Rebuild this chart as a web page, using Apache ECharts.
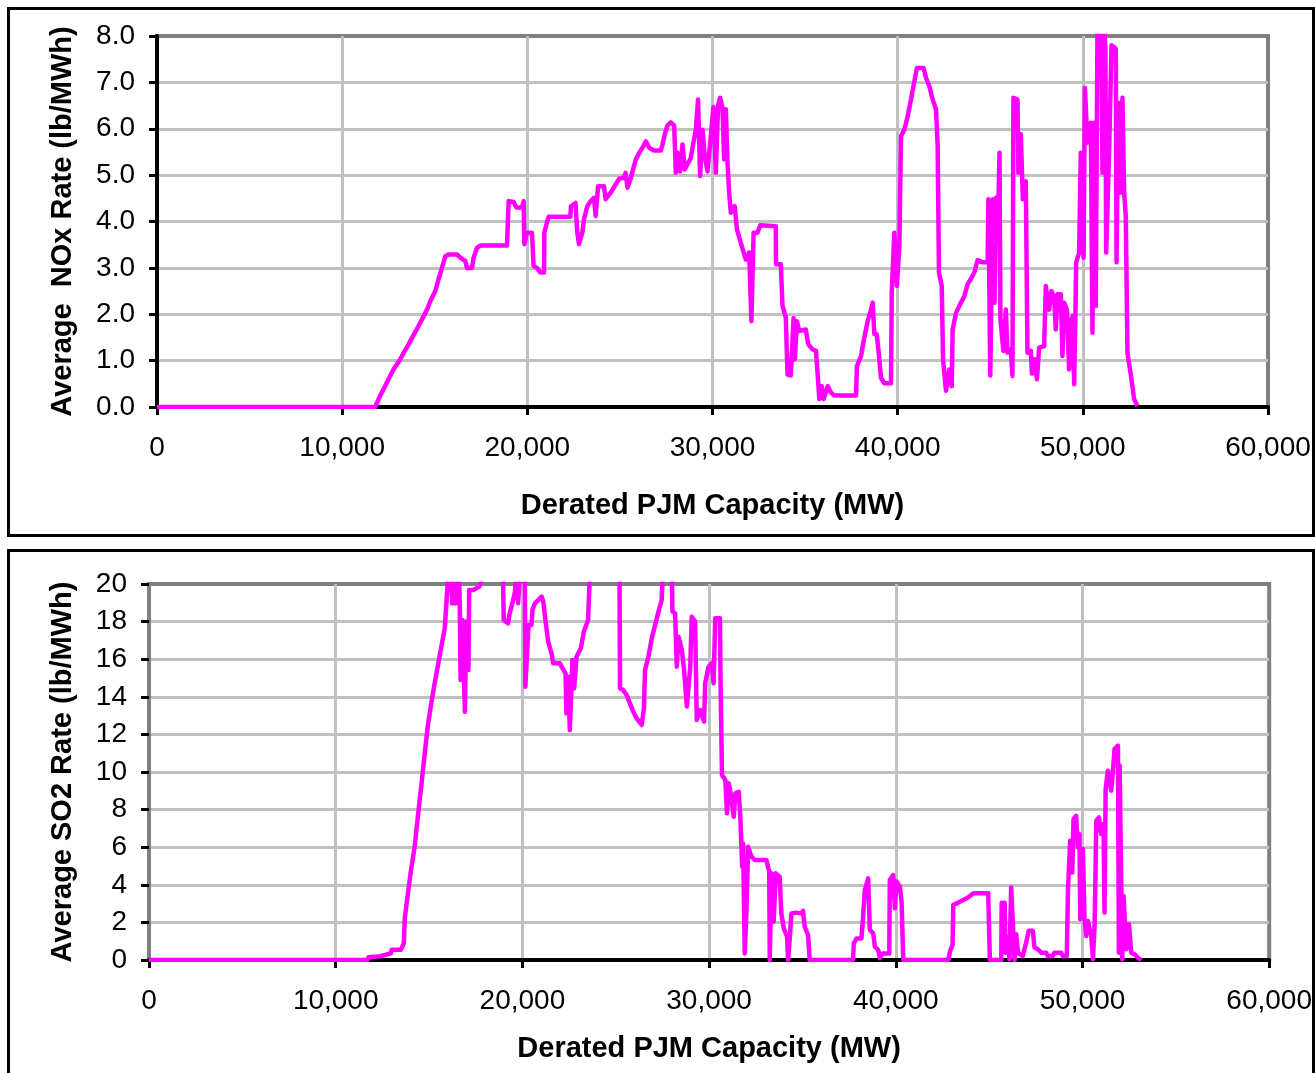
<!DOCTYPE html>
<html><head><meta charset="utf-8">
<script src="https://cdn.jsdelivr.net/npm/echarts@6/dist/echarts.min.js"></script>
<style>html,body{margin:0;padding:0;background:#fff;}#c{width:1315px;height:1073px;}</style>
</head><body><div id="c"></div>
<script>
// ---- Data ----
const xTickValues = [0, 10000, 20000, 30000, 40000, 50000, 60000];
const noxTickValues = [0, 1, 2, 3, 4, 5, 6, 7, 8];
const so2TickValues = [0, 2, 4, 6, 8, 10, 12, 14, 16, 18, 20];

const noxMW = [0,11780,12050,12320,12590,12770,13140,13320,13590,13770,14130,14310,14580,14760,15030,15200,15390,15570,15750,16200,16380,16650,16740,17010,17100,17280,17460,18900,18990,19260,19410,19710,19800,19840,19980,20250,20340,20520,20700,20900,20920,21070,21160,22320,22360,22600,22700,22790,22970,23060,23240,23420,23600,23690,23820,24140,24230,24500,24770,24950,25220,25310,25410,25590,25680,25860,26040,26220,26400,26580,26850,27210,27300,27420,27570,27750,27930,28020,28110,28250,28380,28500,28680,28830,28920,29100,29220,29330,29460,29580,29730,29900,30050,30180,30300,30410,30540,30630,30720,30810,30900,30990,31200,31320,31530,31800,31980,32100,32200,32220,32430,32580,33420,33430,33690,33780,33960,34050,34230,34380,34450,34560,34680,35040,35170,35410,35590,35680,35770,35900,36000,36220,36400,36580,37750,37800,38020,38200,38380,38560,38650,38740,38870,38960,39100,39280,39640,39680,39820,39960,40090,40180,40360,40540,40720,40900,41040,41400,41530,41710,41890,42070,42160,42230,42380,42450,42610,42790,42920,42970,43150,43330,43600,43780,43960,44140,44320,44590,44860,44900,45000,45140,45230,45320,45410,45500,45550,45710,45840,45930,46110,46200,46250,46470,46520,46650,46760,46920,47010,47190,47250,47370,47520,47640,47910,48000,48090,48180,48310,48450,48540,48630,48810,48900,48990,49140,49260,49350,49460,49530,49600,49640,49800,49890,50040,50110,50250,50430,50520,50610,50700,50790,51000,51060,51150,51220,51260,51420,51550,51780,51820,51910,52020,52140,52230,52320,52410,52590,52770,52950];
const noxRate = [0,0,0.24,0.45,0.67,0.81,1.03,1.17,1.35,1.49,1.75,1.89,2.10,2.28,2.50,2.75,3.00,3.25,3.29,3.29,3.22,3.15,3.00,3.00,3.22,3.43,3.48,3.48,4.44,4.42,4.30,4.30,4.44,3.51,3.76,3.76,3.04,3.00,2.90,2.90,3.76,4.00,4.10,4.10,4.33,4.40,3.76,3.51,3.76,4.05,4.33,4.44,4.51,4.12,4.76,4.76,4.48,4.62,4.80,4.92,4.94,5.05,4.73,4.94,5.08,5.34,5.48,5.59,5.73,5.59,5.53,5.53,5.66,5.88,6.07,6.14,6.07,5.05,5.48,5.08,5.66,5.12,5.26,5.37,5.59,5.98,6.63,4.98,5.98,5.41,5.08,5.80,6.47,5.05,6.50,6.67,6.45,5.34,6.42,5.27,4.62,4.19,4.33,3.83,3.54,3.18,3.33,1.85,1.85,3.76,3.76,3.92,3.90,3.08,3.08,2.18,1.93,0.70,0.68,1.92,1.03,1.85,1.64,1.67,1.35,1.24,1.21,0.70,0.17,0.45,0.17,0.45,0.31,0.25,0.25,0.88,1.10,1.50,1.85,2.10,2.25,1.57,1.57,1.24,0.63,0.51,0.51,2.46,3.76,2.61,3.47,5.84,5.98,6.27,6.63,7.02,7.31,7.31,7.10,6.92,6.63,6.42,5.63,2.90,2.61,1.03,0.35,0.81,0.45,1.67,2.03,2.18,2.39,2.65,2.77,2.90,3.17,3.12,3.12,4.48,0.68,4.48,2.25,4.51,3.80,5.48,1.89,1.21,2.10,1.17,1.24,0.67,6.67,6.63,5.05,5.88,4.48,4.87,1.17,1.21,0.72,1.03,0.60,1.28,1.31,2.61,2.65,2.10,2.50,2.36,1.67,2.43,2.43,1.10,2.25,2.10,0.81,1.85,1.96,0.49,2.03,3.12,3.33,5.48,3.22,6.88,5.70,6.13,1.60,6.13,2.18,8.20,8.20,5.05,8.20,7.69,3.33,5.55,7.80,7.73,3.12,6.56,4.62,6.67,4.62,4.12,1.17,0.70,0.17,0.02];

const so2MW = [0,11700,11750,12400,12450,12950,13000,13500,13650,13700,13870,14050,14230,14410,14590,14760,14940,15120,15300,15480,15660,15840,15930,16020,16200,16230,16430,16470,16610,16650,16690,16790,16920,17000,17110,17150,17370,17460,17690,17820,18300,18700,18960,19000,19230,19320,19460,19590,19680,19770,19860,20130,20160,20250,20330,20490,20540,20670,20850,21030,21120,21200,21290,21380,21560,21650,22010,22150,22310,22360,22450,22540,22680,22770,22900,23130,23290,23520,23610,24200,24800,25200,25230,25400,25580,25760,25940,26120,26390,26510,26570,26750,26930,27110,27290,27460,27520,27750,28000,28040,28180,28270,28360,28540,28660,28810,28990,29070,29250,29340,29520,29730,29790,29970,30150,30240,30330,30580,30620,30690,30870,30960,31050,31140,31320,31410,31590,31680,31770,31820,31910,32000,32090,32270,32450,33070,33220,33250,33340,33460,33570,33780,33870,34000,34180,34230,34320,34410,34680,34940,35030,35120,35300,35390,37710,37750,37900,38160,38250,38340,38520,38610,38790,38880,39060,39150,39290,39650,39680,39860,39950,40040,40220,40310,40400,42810,42900,43040,43080,43260,43430,43610,43790,43970,44150,44950,45040,45650,45670,45830,45880,46000,46090,46180,46360,46450,46540,46800,46980,47120,47340,47430,47610,47790,48050,48140,48410,48500,48860,48950,49160,49220,49340,49450,49520,49660,49750,49840,49880,50020,50110,50200,50290,50470,50560,50650,50700,50740,50880,51000,51130,51180,51240,51360,51540,51630,51720,51900,51950,51990,52080,52130,52200,52350,52490,52610,52790,52970,53150];
const so2Rate = [0,0,0.15,0.20,0.30,0.35,0.55,0.55,0.90,2.22,3.55,4.88,6.03,7.71,9.31,10.90,12.50,13.65,14.72,15.70,16.67,17.64,18.97,20.50,20.50,18.97,18.97,20.50,20.50,18.62,14.90,18.09,13.21,18.00,15.43,19.68,19.68,19.77,19.86,20.20,22.00,21.50,20.50,18.09,17.91,18.44,18.97,19.50,20.50,18.97,20.50,20.50,14.54,14.45,17.82,17.82,18.62,18.97,19.15,19.33,19.06,18.35,17.64,16.93,16.31,15.78,15.78,15.51,15.25,13.12,15.07,12.23,15.96,14.45,16.13,16.58,17.46,18.09,20.50,22.50,22.00,20.50,14.45,14.36,14.10,13.65,13.21,12.85,12.50,13.39,15.43,16.13,17.11,17.82,18.53,19.15,20.50,21.00,20.50,18.53,18.44,15.60,17.20,16.49,15.43,13.48,15.60,18.26,18.00,12.77,13.30,12.68,14.72,15.60,15.78,14.72,18.18,18.18,14.36,9.84,9.57,7.80,9.40,8.95,7.62,8.87,8.95,7.45,4.96,6.20,0.35,2.57,6.03,5.50,5.32,5.32,4.70,0,4.61,2.04,4.61,4.43,2.48,1.68,1.24,0,1.15,2.48,2.52,2.48,2.62,1.77,1.33,0,0,0.89,1.15,1.15,2.30,3.72,4.34,1.60,1.42,0.71,0.53,0.09,0.35,0.35,4.26,4.52,2.75,4.17,3.90,3.10,0,0,0.44,0.80,2.93,3.01,3.10,3.19,3.28,3.40,3.55,3.55,0,0,3.05,3.05,0.39,1.19,0.04,3.85,0,1.37,0.39,0.21,0.92,1.55,1.55,0.66,0.57,0.39,0.39,0.21,0.21,0.39,0.39,0.21,0.21,3.68,6.34,4.65,7.50,7.67,5.99,6.70,2.17,5.90,2.17,1.28,2.08,1.28,0.04,1.90,4.83,7.41,7.58,6.70,7.23,2.52,9.09,10.07,9.01,10.07,11.23,11.40,0.39,10.34,10.34,0.04,3.41,0.57,1.90,0.39,0.30,0.12,0];

// ---- Chart ----
const FONT = '"Liberation Sans", Arial, sans-serif';
const pairs = (xs, ys) => xs.map((x, i) => [x, ys[i]]);
const fmtThousands = v => String(v).replace(/\B(?=(\d{3})+(?!\d))/g, ',');

function xAxisCfg(gridIndex, nameGap) {
  return {
    type: 'value', gridIndex,
    min: xTickValues[0], max: xTickValues[xTickValues.length - 1],
    interval: xTickValues[1] - xTickValues[0],
    name: 'Derated PJM Capacity (MW)', nameLocation: 'middle', nameGap,
    nameTextStyle: { fontFamily: FONT, fontSize: 29, fontWeight: 'bold', color: '#000' },
    axisLine: { show: true, onZero: false, lineStyle: { color: '#000', width: 4 } },
    axisTick: { show: true, length: 8, lineStyle: { color: '#000', width: 3 } },
    axisLabel: { fontFamily: FONT, fontSize: 28, color: '#000', margin: 27, formatter: fmtThousands },
    splitLine: { show: true, showMinLine: false, showMaxLine: false, lineStyle: { color: '#c0c0c0', width: 3 } }
  };
}
function yAxisCfg(gridIndex, ticks, name, nameGap, fmt, lineColor) {
  return {
    type: 'value', gridIndex,
    min: ticks[0], max: ticks[ticks.length - 1], interval: ticks[1] - ticks[0],
    name, nameLocation: 'middle', nameGap,
    nameTextStyle: { fontFamily: FONT, fontSize: 29, fontWeight: 'bold', color: '#000' },
    axisLine: { show: true, onZero: false, lineStyle: { color: lineColor, width: 4 } },
    axisTick: { show: true, length: 8, lineStyle: { color: '#000', width: 3 } },
    axisLabel: { fontFamily: FONT, fontSize: 28, color: '#000', margin: 22, formatter: fmt },
    splitLine: { show: true, showMinLine: false, showMaxLine: false, lineStyle: { color: '#c0c0c0', width: 3 } }
  };
}

const chart = echarts.init(document.getElementById('c'));
chart.setOption({
  animation: false,
  backgroundColor: '#fff',
  graphic: [
    { type: 'rect', silent: true, z: -10, shape: { x: 8.5, y: 8.5, width: 1305, height: 527 },
      style: { fill: 'transparent', stroke: '#000', lineWidth: 3 } },
    { type: 'rect', silent: true, z: -10, shape: { x: 8.5, y: 550.5, width: 1305, height: 560 },
      style: { fill: 'transparent', stroke: '#000', lineWidth: 3 } }
  ],
  grid: [
    { left: 157, top: 36, width: 1111, height: 371, show: true, borderColor: '#808080', borderWidth: 4, backgroundColor: 'transparent' },
    { left: 149, top: 584, width: 1121, height: 376, show: true, borderColor: '#808080', borderWidth: 4, backgroundColor: 'transparent' }
  ],
  xAxis: [xAxisCfg(0, 84), xAxisCfg(1, 74)],
  yAxis: [
    yAxisCfg(0, noxTickValues, 'Average  NOx Rate (lb/MWh)', 80, v => v.toFixed(1), '#000'),
    yAxisCfg(1, so2TickValues, 'Average SO2 Rate (lb/MWh)', 72, v => String(v), '#808080')
  ],
  series: [
    { type: 'line', xAxisIndex: 0, yAxisIndex: 0, data: pairs(noxMW, noxRate), symbol: 'none', clip: true,
      lineStyle: { color: '#ff00ff', width: 4.5, join: 'round' }, itemStyle: { color: '#ff00ff' } },
    { type: 'line', xAxisIndex: 1, yAxisIndex: 1, data: pairs(so2MW, so2Rate), symbol: 'none', clip: true,
      lineStyle: { color: '#ff00ff', width: 4.5, join: 'round' }, itemStyle: { color: '#ff00ff' } }
  ]
});
</script>
</body></html>
